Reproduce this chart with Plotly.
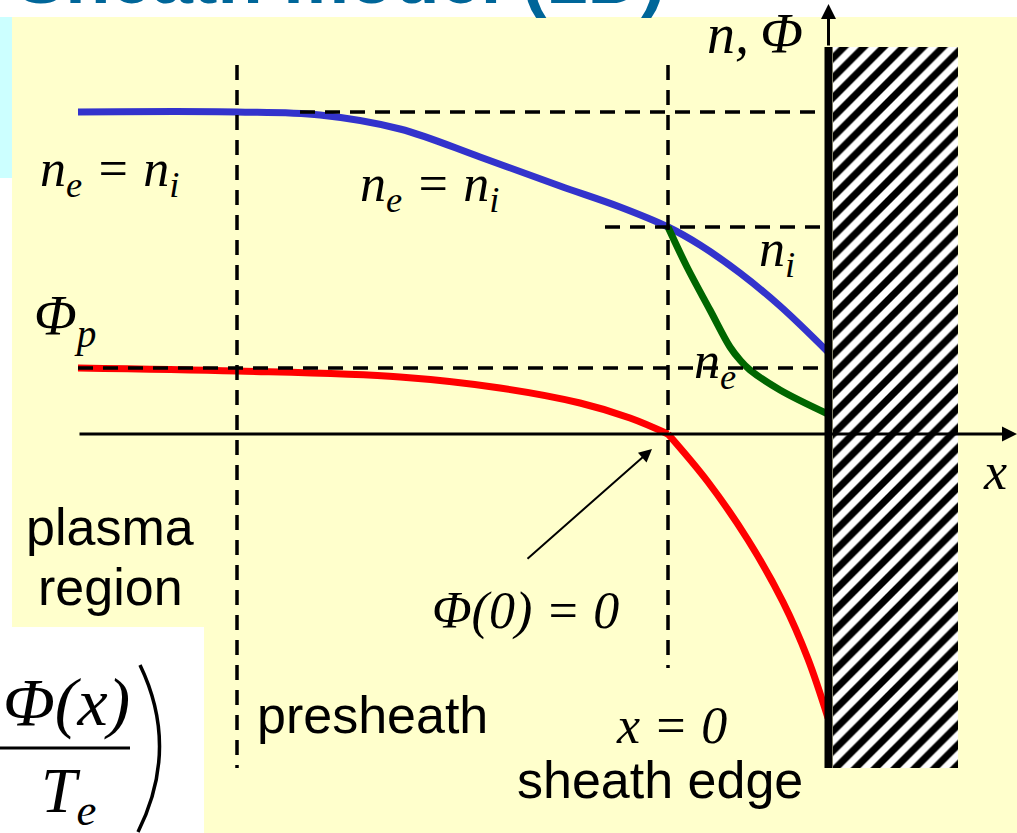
import plotly.graph_objects as go

# Sheath model (1D): position measured from the sheath edge (x = 0) toward the wall,
# densities and potential in the same arbitrary vertical units.
x_ion = [-590, -431, -348, -268, -188, -108, -48, 0, 32, 72, 112, 160]
n_ion = [322, 322, 319, 305, 277, 248, 227, 207, 189, 161, 128, 82]

x_elec_sheath = [0, 19, 42, 62, 72, 82, 112, 160]
n_elec_sheath = [207, 167, 124, 87, 74, 64, 44, 20]

x_phi_presheath = [-590, -431, -268, -168, -88, -38, 0]
phi_presheath = [66, 63, 57, 46, 31, 16, 0]

x_phi_sheath = [0, 40, 80, 115, 140, 160]
phi_sheath = [0, -48, -106, -168, -225, -284]

x_presheath_start = -431
x_sheath_edge = 0
x_wall = 160.5
wall_top, wall_bottom = 387, -334
wall_depth = 125

n_bulk = n_ion[0]
n_edge = n_ion[x_ion.index(x_sheath_edge)]
phi_plasma = phi_presheath[0]

X_RANGE = [-668, 349]
Y_RANGE = [-399, 434]

BLUE, GREEN, RED = "#3333CC", "#006600", "#FF0000"
SERIF, SANS = "Liberation Serif", "Liberation Sans"

fig = go.Figure()

# hatched wall
wx = [x_wall + 4.5, x_wall + 4.5 + wall_depth]
fig.add_trace(go.Scatter(
    x=[wx[0], wx[1], wx[1], wx[0], wx[0]],
    y=[wall_top, wall_top, wall_bottom, wall_bottom, wall_top],
    mode="lines", fill="toself", line=dict(width=0), fillcolor="white",
    fillpattern=dict(shape="/", fgcolor="black", fgopacity=1, bgcolor="white", size=14, solidity=0.5),
    hoverinfo="skip", showlegend=False))

line_style = dict(width=7)
fig.add_trace(go.Scatter(x=x_ion, y=n_ion, mode="lines", line=dict(color=BLUE, shape="spline", **line_style),
                         showlegend=False))
fig.add_trace(go.Scatter(x=x_elec_sheath, y=n_elec_sheath, mode="lines",
                         line=dict(color=GREEN, shape="spline", **line_style), showlegend=False))
fig.add_trace(go.Scatter(x=x_phi_presheath, y=phi_presheath, mode="lines",
                         line=dict(color=RED, shape="spline", **line_style), showlegend=False))
fig.add_trace(go.Scatter(x=x_phi_sheath, y=phi_sheath, mode="lines",
                         line=dict(color=RED, shape="spline", **line_style), showlegend=False))

W, H = 1017, 833
shapes = [
    # page panels
    dict(type="rect", xref="paper", yref="paper", x0=12 / W, x1=1, y0=0, y1=1 - 17 / H,
         fillcolor="#FFFFCC", line=dict(width=0), layer="below"),
    dict(type="rect", xref="paper", yref="paper", x0=0, x1=12 / W, y0=1 - 178 / H, y1=1 - 17 / H,
         fillcolor="#CCFFFF", line=dict(width=0), layer="below"),
    dict(type="rect", xref="paper", yref="paper", x0=0, x1=204 / W, y0=0, y1=206 / H,
         fillcolor="white", line=dict(width=0), layer="below"),
]

dash = dict(color="black", width=3.5, dash="15px,10px")
shapes += [
    dict(type="line", x0=x_presheath_start, x1=x_presheath_start, y0=369, y1=-334, line=dash),
    dict(type="line", x0=x_sheath_edge, x1=x_sheath_edge, y0=369, y1=-234, line=dash),
    dict(type="line", x0=-368, x1=x_wall, y0=n_bulk, y1=n_bulk, line=dash),
    dict(type="line", x0=-63, x1=x_wall, y0=n_edge, y1=n_edge, line=dash),
    dict(type="line", x0=x_phi_presheath[0], x1=x_wall, y0=phi_plasma, y1=phi_plasma, line=dash),
    # wall surface
    dict(type="line", x0=x_wall, x1=x_wall, y0=wall_top, y1=wall_bottom, line=dict(color="black", width=8)),
    # fraction bar and closing bracket of the Boltzmann factor
    dict(type="line", x0=-668, x1=-538, y0=-314, y1=-314, line=dict(color="black", width=3)),
    dict(type="path", path="M -528,-231 Q -488,-314 -530,-398", line=dict(color="black", width=3.5)),
]

def math(text, x, y, size=52, **kw):
    return dict(text=text, x=x, y=y, xref="x", yref="y", showarrow=False,
                xanchor="center", yanchor="middle",
                font=dict(family=SERIF, size=size, color="black", style="italic"), **kw)

def words(text, x, y, size=52):
    return dict(text=text, x=x, y=y, xref="x", yref="y", showarrow=False,
                xanchor="center", yanchor="middle",
                font=dict(family=SANS, size=size, color="black"))

annotations = [
    dict(text="<b>Sheath model (1D)</b>", x=14 / W, y=1 + 23 / H, xref="paper", yref="paper",
         xanchor="left", yanchor="middle", showarrow=False,
         font=dict(family=SANS, size=74, color="#006699")),
    # axes
    dict(x=X_RANGE[1], y=0, ax=x_phi_presheath[0], ay=0, xref="x", yref="y", axref="x", ayref="y",
         text="", showarrow=True, arrowhead=2, arrowsize=1, arrowwidth=3, arrowcolor="black"),
    dict(x=x_wall, y=430, ax=x_wall, ay=wall_top, xref="x", yref="y", axref="x", ayref="y",
         text="", showarrow=True, arrowhead=2, arrowsize=1, arrowwidth=3, arrowcolor="black"),
    # pointer to the sheath edge
    dict(x=-16, y=-15, ax=-142, ay=-126, xref="x", yref="y", axref="x", ayref="y",
         text="", showarrow=True, arrowhead=2, arrowsize=1.3, arrowwidth=2, arrowcolor="black"),
    math("n,\u2009Φ", 87, 400, size=56),
    math("x", 327, -37),
    math("n<sub>e</sub> = n<sub>i</sub>", -559, 262),
    math("n<sub>e</sub> = n<sub>i</sub>", -239, 247),
    math("n<sub>i</sub>", 109, 182),
    math("n<sub>e</sub>", 47, 70),
    math("Φ<sub>p</sub>", -603, 114, size=56),
    math("Φ(0) = 0", -143, -177),
    math("x = 0", 3, -291),
    math("Φ(x)", -602, -268, size=68),
    math("T<sub>e</sub>", -600, -361, size=64),
    words("plasma", -558, -93),
    words("region", -558, -153),
    words("presheath", -296, -281),
    words("sheath edge", -8, -346),
]

fig.update_layout(
    width=W, height=H, autosize=False,
    margin=dict(l=0, r=0, t=0, b=0),
    paper_bgcolor="white", plot_bgcolor="rgba(0,0,0,0)",
    xaxis=dict(range=X_RANGE, visible=False, fixedrange=True),
    yaxis=dict(range=Y_RANGE, visible=False, fixedrange=True),
    shapes=shapes, annotations=annotations, showlegend=False,
)

fig.write_html("out.html")
